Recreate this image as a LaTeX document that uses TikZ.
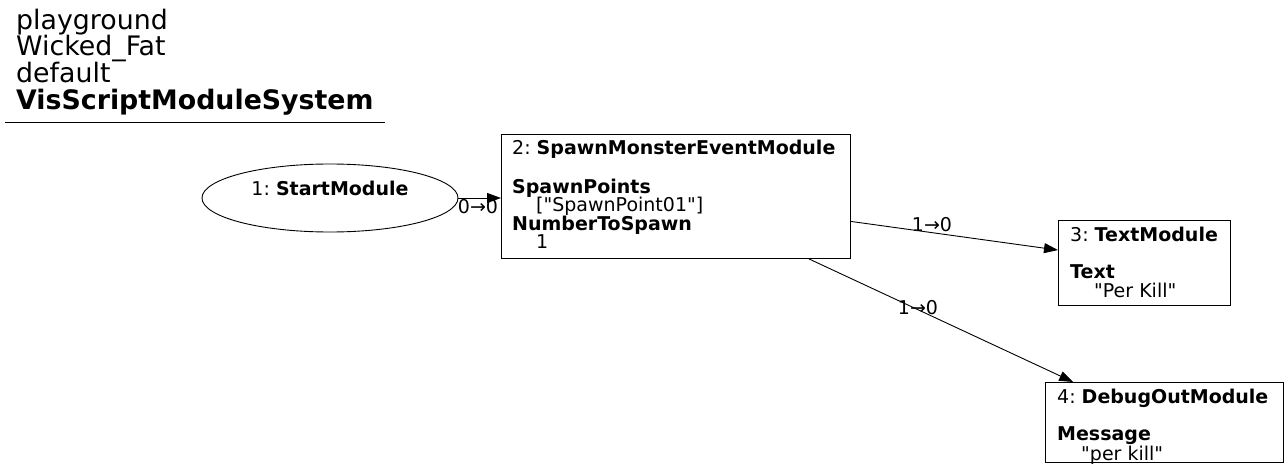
\documentclass[tikz,border=0pt]{standalone}
\usepackage{fontspec}
\setmainfont{DejaVu Sans}
\usetikzlibrary{shapes,arrows.meta,positioning,calc}
\newcommand{\qt}[1]{\textquotedbl#1\textquotedbl}

\begin{document}
\frenchspacing
\begin{tikzpicture}[x=1pt,y=-1pt,
    modbox/.style={draw, rectangle, inner sep=0pt, line width=0.9pt},
    modtext/.style={anchor=north west, align=left, inner sep=0pt,
        font=\fontsize{19}{18.5}\selectfont},
    startmod/.style={draw, ellipse, inner sep=0pt, minimum width=256pt, minimum height=68pt,
        align=center, line width=0.9pt, font=\fontsize{19}{18.5}\selectfont},
    link/.style={-{Triangle[length=14pt,width=10pt]}, line width=0.9pt},
    lbl/.style={inner sep=0pt, font=\fontsize{19}{18.5}\selectfont}]
    \useasboundingbox (0,0) rectangle (1288,473);

    % header
    \node[anchor=north west, align=left, inner sep=0pt, font=\fontsize{26.8}{26.7}\selectfont]
        (header) at (16,8.7) {playground\\Wicked\_Fat\\default\\\textbf{VisScriptModuleSystem}};
    \draw[line width=0.9pt] (5,122) -- (385,122);

    % modules
    \node[startmod] (start) at (330,198) {1: \textbf{StartModule}\\ \mbox{}};
    \node[modbox, anchor=north west, minimum width=349pt, minimum height=124pt] (spawn) at (501,134) {};
    \node[modtext] (spawntxt) at ($(spawn.north west)+(11,6)$)
        {2: \textbf{SpawnMonsterEventModule}\\[20pt]
         \textbf{SpawnPoints}\\
         \hspace*{24pt}[\qt{SpawnPoint01}]\\
         \textbf{NumberToSpawn}\\
         \hspace*{24pt}1};
    \node[modbox, anchor=north west, minimum width=172pt, minimum height=85pt] (textmod) at (1058,220) {};
    \node[modtext] (textmodtxt) at ($(textmod.north west)+(12,7)$)
        {3: \textbf{TextModule}\\[18.5pt]
         \textbf{Text}\\
         \hspace*{24pt}\qt{Per Kill}};
    \node[modbox, anchor=north west, minimum width=238pt, minimum height=80pt] (debug) at (1045,382) {};
    \node[modtext] (debugtxt) at ($(debug.north west)+(12,7)$)
        {4: \textbf{DebugOutModule}\\[18.5pt]
         \textbf{Message}\\
         \hspace*{24pt}\qt{per kill}};

    % links
    \coordinate (s3) at ($(spawn.north east)!0.7!(spawn.south east)$);
    \coordinate (t3) at ($(textmod.north west)!0.35!(textmod.south west)$);
    \coordinate (s4) at ($(spawn.south west)!0.88!(spawn.south east)$);
    \coordinate (t4) at ($(debug.north west)!0.118!(debug.north east)$);
    \draw[link] (start.east) -- (start.east -| spawn.west);
    \draw[link] (s3) -- (t3);
    \draw[link] (s4) -- (t4);
    \node[lbl] (l12) at (478,207) {0→0};
    \node[lbl] (l23) at (932,225) {1→0};
    \node[lbl] (l24) at (918,308) {1→0};
\end{tikzpicture}
\end{document}
